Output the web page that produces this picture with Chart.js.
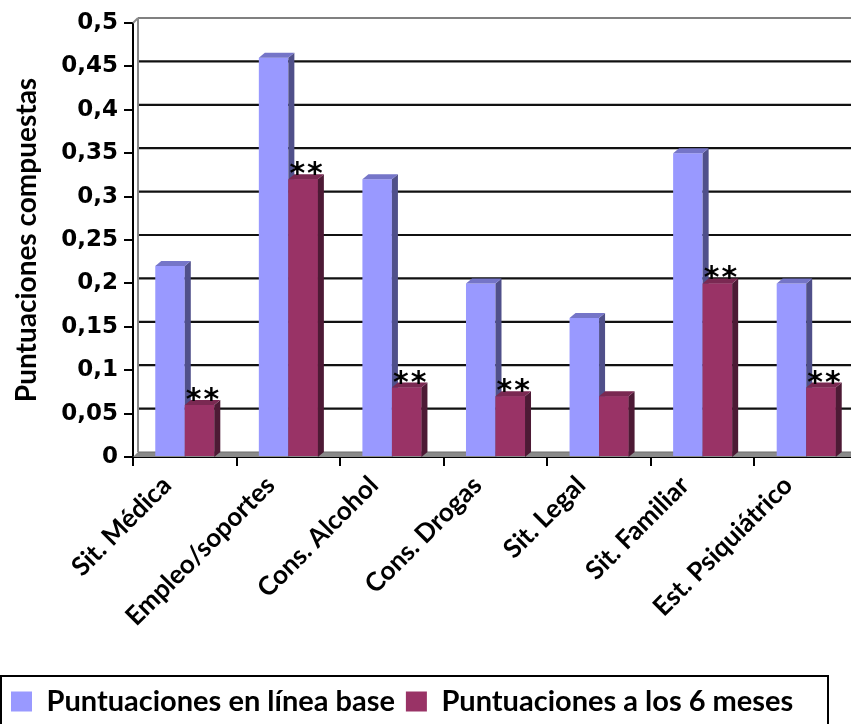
<!DOCTYPE html>
<html><head><meta charset="utf-8">
<script src="https://cdn.jsdelivr.net/npm/chart.js@4/dist/chart.umd.min.js"></script>
<style>html,body{margin:0;padding:0;overflow:hidden;background:#fff}
#wrap{width:858px;height:726px;position:relative}</style></head>
<body><div id="wrap"><canvas id="c"></canvas></div>
<script>
const categories = ['Sit. Médica','Empleo/soportes','Cons. Alcohol','Cons. Drogas','Sit. Legal','Sit. Familiar','Est. Psiquiátrico'];
const baselineScores = [0.22,0.46,0.32,0.20,0.16,0.35,0.20];
const sixMonthScores = [0.06,0.32,0.08,0.07,0.07,0.20,0.08];
const significance = ['**','**','**','**','','**','**'];
const seriesLabels = ['Puntuaciones en línea base','Puntuaciones a los 6 meses'];
const yAxisTitle = 'Puntuaciones compuestas';
const yMin = 0, yMax = 0.5, yStep = 0.05;

const FONT = 'Lato';
const WALL_DX = 5, WALL_DY = 5;   // back wall offset
const DEPTH_DX = 6, DEPTH_DY = 5; // bar depth
const faces = [
  {front:'#9999FF', side:'#50508A', top:'#7575C8'},
  {front:'#993366', side:'#4D1A35', top:'#7A2952'}
];

function line(ctx,x1,y1,x2,y2){ctx.beginPath();ctx.moveTo(x1,y1);ctx.lineTo(x2,y2);ctx.stroke();}

function drawFaces(ctx, meta, y0){
  const f = faces[meta.index];
  meta.data.forEach(bar=>{
    const {x, y:by, width:w} = bar.getProps(['x','y','width'],true);
    const l = x - w/2, r = x + w/2;
    ctx.fillStyle = f.side;
    ctx.beginPath(); ctx.moveTo(r,by); ctx.lineTo(r+DEPTH_DX,by-DEPTH_DY);
    ctx.lineTo(r+DEPTH_DX,y0-DEPTH_DY); ctx.lineTo(r,y0); ctx.closePath(); ctx.fill();
    ctx.fillStyle = f.top;
    ctx.beginPath(); ctx.moveTo(l,by); ctx.lineTo(l+DEPTH_DX,by-DEPTH_DY);
    ctx.lineTo(r+DEPTH_DX,by-DEPTH_DY); ctx.lineTo(r,by); ctx.closePath(); ctx.fill();
  });
}

const wallPlugin = {
  id:'wall',
  beforeDatasetsDraw(chart){
    const {ctx, chartArea:a, scales:{y}} = chart;
    const R = chart.width + 20;
    const y0 = y.getPixelForValue(yMin), yt = y.getPixelForValue(yMax);
    ctx.save();
    ctx.fillStyle = '#8a8a8a';
    ctx.beginPath(); ctx.moveTo(a.left,y0); ctx.lineTo(a.left+WALL_DX,y0-WALL_DY);
    ctx.lineTo(R,y0-WALL_DY); ctx.lineTo(R,y0); ctx.closePath(); ctx.fill();
    ctx.strokeStyle = '#6e6e6e'; ctx.lineWidth = 1;
    line(ctx,a.left+WALL_DX,y0-WALL_DY,R,y0-WALL_DY);
    y.ticks.forEach(t=>{
      if (t.value <= yMin + 1e-9) return;
      const py = y.getPixelForValue(t.value) - WALL_DY;
      const top = t.value >= yMax - 1e-9;
      ctx.strokeStyle = top ? '#808080' : '#111';
      ctx.lineWidth = 2.2;
      line(ctx,a.left+WALL_DX,py,R,py);
    });
    ctx.strokeStyle = '#8a8a8a'; ctx.lineWidth = 2;
    line(ctx,a.left+WALL_DX,yt-WALL_DY,a.left+WALL_DX,y0-WALL_DY);
    line(ctx,a.left,yt,a.left+WALL_DX,yt-WALL_DY);
    ctx.restore();
  },
  afterDatasetsDraw(chart){
    const {ctx, scales:{y}} = chart;
    const y0 = y.getPixelForValue(yMin);
    const blue = chart.getDatasetMeta(0), red = chart.getDatasetMeta(1);
    ctx.save();
    drawFaces(ctx, blue, y0);
    red.data.forEach(el => el.draw(ctx));
    drawFaces(ctx, red, y0);
    ctx.fillStyle = '#000';
    ctx.font = 'bold 30px "DejaVu Sans"';
    ctx.letterSpacing = '2px';
    ctx.textAlign = 'center'; ctx.textBaseline = 'alphabetic';
    red.data.forEach((bar,i)=>{
      if (!significance[i]) return;
      const {x, y:by} = bar.getProps(['x','y'],true);
      ctx.fillText(significance[i], x + 4, by + 4);
    });
    ctx.restore();
  },
  afterDraw(chart){
    const lg = chart.legend; if (!lg) return;
    const ctx = chart.ctx;
    ctx.save(); ctx.strokeStyle = '#000'; ctx.lineWidth = 2;
    ctx.strokeRect(1, lg.top, 827, lg.height + 20);
    ctx.restore();
  }
};

const fmt = v => { const n = Math.round(v*100)/100; return n.toString().replace('.',','); };

new Chart(document.getElementById('c'), {
  type:'bar',
  data:{
    labels: categories,
    datasets:[
      {label:seriesLabels[0], data:baselineScores, backgroundColor:faces[0].front},
      {label:seriesLabels[1], data:sixMonthScores, backgroundColor:faces[1].front}
    ]
  },
  options:{
    responsive:true, maintainAspectRatio:false, animation:false,
    categoryPercentage:0.57, barPercentage:1,
    layout:{padding:{top:23,right:0,left:0,bottom:0}},
    plugins:{
      tooltip:{enabled:false},
      legend:{
        position:'bottom', align:'start',
        labels:{boxWidth:21, boxHeight:20, padding:11, color:'#000',
          font:{family:FONT, size:29, weight:'bold'}}
      }
    },
    scales:{
      y:{
        min:yMin, max:yMax,
        ticks:{stepSize:yStep, color:'#000', padding:6, callback:fmt,
          font:{family:'DejaVu Sans', size:23, weight:'bold'}},
        grid:{drawOnChartArea:false, drawTicks:true, tickLength:9, color:'#000', lineWidth:2},
        border:{display:true, color:'#000', width:2},
        title:{display:true, text:yAxisTitle, color:'#000', padding:{top:10,bottom:0},
          font:{family:FONT, size:28, weight:'bold'}},
        afterFit(s){ s.width = 133; }
      },
      x:{
        ticks:{color:'#000', maxRotation:45, minRotation:45, padding:4, labelOffset:-18,
          font:{family:FONT, size:26, weight:'bold'}},
        grid:{drawOnChartArea:false, drawTicks:true, tickLength:9, color:'#000', lineWidth:2, offset:true},
        border:{display:true, color:'#000', width:2},
        afterFit(s){ s.height = 219; }
      }
    }
  },
  plugins:[wallPlugin]
});
</script></body></html>
